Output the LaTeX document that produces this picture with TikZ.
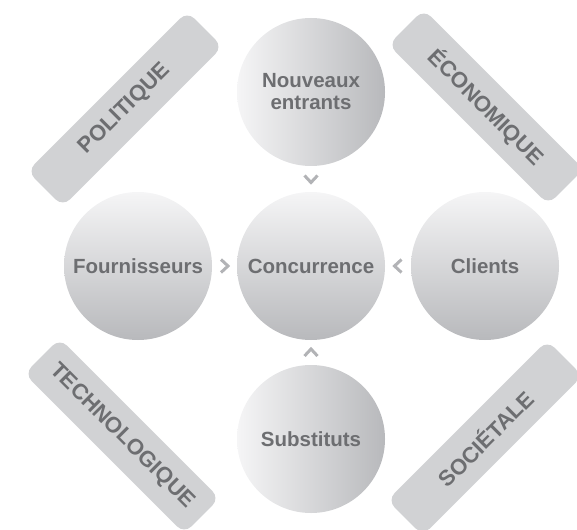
\documentclass[tikz,border=0pt]{standalone}
\usepackage{fontspec}
\setmainfont{Liberation Sans}
\usetikzlibrary{calc}
\definecolor{labelgray}{RGB}{109,110,113}
\definecolor{bargray}{RGB}{209,210,212}
\definecolor{chevgray}{RGB}{178,179,182}
\definecolor{ballhi}{RGB}{245,245,246}
\definecolor{balllo}{RGB}{184,185,188}
\tikzset{
  force/.style={circle, minimum size=148pt, inner sep=0pt, text=labelgray,
    font=\bfseries\fontsize{20.5}{22}\selectfont, align=center},
  vball/.style={force, top color=ballhi, bottom color=balllo},
  hball/.style={force, left color=ballhi, right color=balllo},
  env/.style={rounded corners=10pt, fill=bargray, minimum width=226pt,
    minimum height=50pt, inner sep=0pt, text=labelgray,
    font=\bfseries\fontsize{22}{24}\selectfont},
  chevron/.style={draw=chevgray, line width=3pt, line join=miter}
}
\begin{document}
\begin{tikzpicture}[x=1pt, y=-1pt]
\clip (0,0) rectangle (577,529);
\node[env, rotate=45] (politique) at (125,109) {POLITIQUE};
\node[env, rotate=-45] (economique) at (486,107) {ÉCONOMIQUE};
\node[env, rotate=-45] (technologique) at (122,436) {TECHNOLOGIQUE};
\node[env, rotate=45] (societale) at (485,438) {SOCIÉTALE};
\node[hball] (entrants) at (311,92) {Nouveaux\\entrants};
\node[vball] (fournisseurs) at (138,266) {Fournisseurs};
\node[vball] (concurrence) at (311,266) {Concurrence};
\node[vball] (clients) at (485,266) {Clients};
\node[hball] (substituts) at (311,439) {Substituts};
\foreach \src/\ang in {fournisseurs/0, clients/180, entrants/-90, substituts/90}
  \draw[chevron, shift={($(\src)!0.5!(concurrence)$)}, rotate=\ang]
    (-3.5,6.5) -- (3.5,0) -- (-3.5,-6.5);
\end{tikzpicture}
\end{document}
